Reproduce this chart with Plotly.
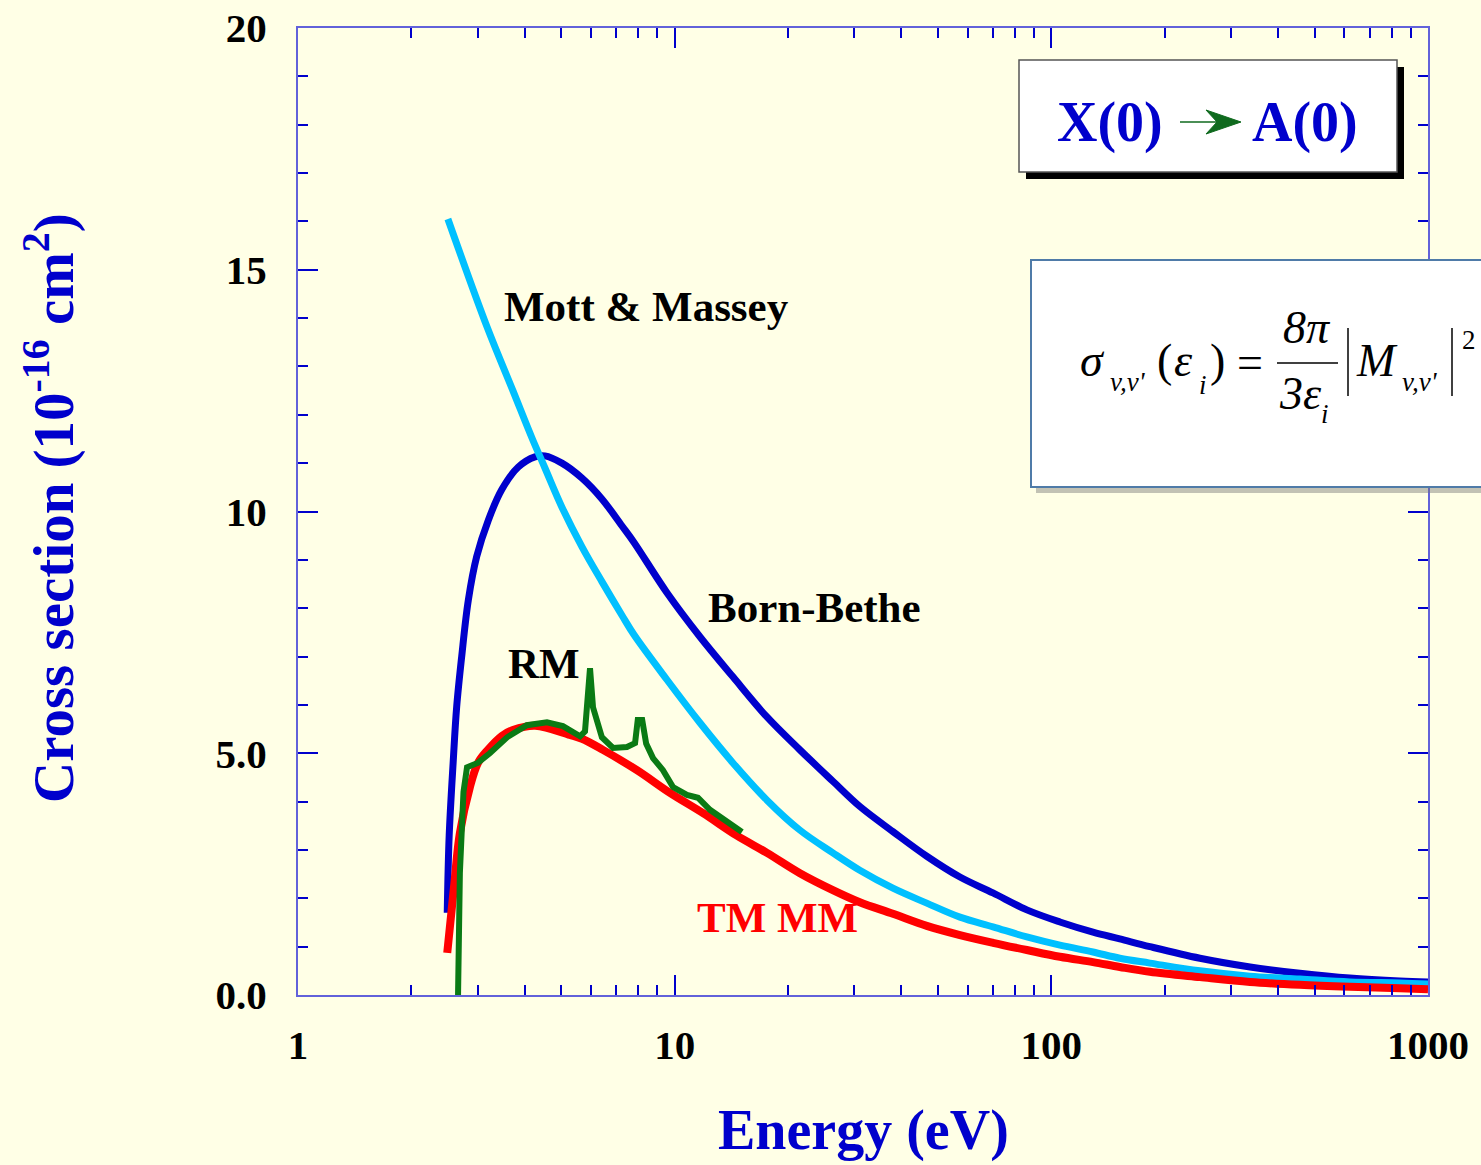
import plotly.graph_objects as go

# ---------------- data ----------------
bb_energy = [2.49, 2.52, 2.584, 2.638, 2.72, 2.833, 2.982, 3.201, 3.473, 3.845, 4.257, 4.525,
             5.02, 5.675, 6.41, 7.25, 7.80, 9.54, 11.67, 14.28, 17.58, 21.5, 26.3,
             31.0, 37.97, 46.7, 57.2, 70.0, 86.1, 105.4, 129, 152, 182.7, 248, 337,
             457, 620, 842, 1000]
bb_sigma = [1.70, 3.30, 4.86, 5.96, 7.00, 8.17, 9.07, 9.82, 10.45, 10.92, 11.13, 11.15,
            11.00, 10.69, 10.26, 9.70, 9.36, 8.32, 7.41, 6.58, 5.75, 5.07, 4.42,
            3.90, 3.38, 2.87, 2.44, 2.11, 1.76, 1.51, 1.30, 1.16, 1.00, 0.76, 0.58,
            0.45, 0.35, 0.29, 0.27]

mm_energy = [2.50, 3.175, 3.72, 4.18, 4.525, 5.02, 5.675, 6.41, 7.25, 7.80, 9.54, 11.67,
             14.28, 17.58, 21.5, 26.3, 31.0, 37.97, 46.7, 57.2, 70.0, 86.1, 105.4, 129,
             152, 182.7, 248, 337, 457, 620, 842, 1000]
mm_sigma = [16.05, 13.82, 12.50, 11.52, 10.90, 10.09, 9.27, 8.55, 7.85, 7.45, 6.52, 5.63,
            4.80, 4.03, 3.41, 2.94, 2.58, 2.21, 1.90, 1.61, 1.41, 1.20, 1.03, 0.89,
            0.76, 0.66, 0.50, 0.39, 0.33, 0.27, 0.25, 0.23]

tm_energy = [2.49, 2.60, 2.69, 2.86, 3.005, 3.175, 3.479, 3.72, 4.26, 5.27, 5.675, 6.45,
             7.94, 9.72, 11.9, 14.6, 17.58, 21.5, 26.3, 31.0, 37.97, 46.7, 57.2, 70.0,
             86.1, 105.4, 129, 152, 182.7, 248, 337, 457, 620, 842, 1000]
tm_sigma = [0.87, 2.30, 3.35, 4.30, 4.80, 5.05, 5.36, 5.48, 5.57, 5.38, 5.30, 5.07,
            4.65, 4.18, 3.76, 3.30, 2.94, 2.52, 2.17, 1.92, 1.68, 1.43, 1.24, 1.08,
            0.93, 0.79, 0.68, 0.58, 0.48, 0.37, 0.27, 0.21, 0.17, 0.14, 0.12]

rm_energy = [2.66, 2.69, 2.75, 2.81, 3.00, 3.23, 3.59, 4.05, 4.58, 5.05, 5.61, 5.78,
             5.96, 6.07, 6.41, 6.86, 7.47, 7.85, 7.98, 8.20, 8.40, 8.76, 9.31, 9.90,
             10.78, 11.53, 12.41, 13.77, 15.09]
rm_sigma = [0.00, 2.52, 4.20, 4.71, 4.80, 5.00, 5.33, 5.58, 5.64, 5.56, 5.35, 5.45,
            6.76, 5.95, 5.33, 5.11, 5.13, 5.21, 5.69, 5.69, 5.20, 4.90, 4.65, 4.30,
            4.14, 4.08, 3.83, 3.58, 3.37]

x_tick_vals = [1, 10, 100, 1000]
x_tick_text = ["1", "10", "100", "1000"]
x_minor_vals = [2, 3, 4, 5, 6, 7, 8, 9, 20, 30, 40, 50, 60, 70, 80, 90,
                200, 300, 400, 500, 600, 700, 800, 900]
y_tick_vals = [0, 5, 10, 15, 20]
y_tick_text = ["0.0", "5.0", "10", "15", "20"]

# ---------------- figure ----------------
W, H = 1481, 1165
L, R, T, B = 298, 53, 28, 170
PW, PH = W - L - R, H - T - B

def px(xp):
    return (xp - L) / PW

def py(yp):
    return (H - B - yp) / PH

BG = "#FFFFE6"
SERIF = "Liberation Serif, Times New Roman, serif"
BLUE = "#0000CC"

fig = go.Figure()
fig.add_trace(go.Scatter(x=bb_energy, y=bb_sigma, mode="lines", name="Born-Bethe",
                         line=dict(color="#0000CC", width=7, shape="spline", smoothing=1.0)))
fig.add_trace(go.Scatter(x=mm_energy, y=mm_sigma, mode="lines", name="Mott & Massey",
                         line=dict(color="#00C0FF", width=7, shape="spline", smoothing=1.0)))
fig.add_trace(go.Scatter(x=tm_energy, y=tm_sigma, mode="lines", name="TM MM",
                         line=dict(color="#FF0000", width=8, shape="spline", smoothing=1.0)))
fig.add_trace(go.Scatter(x=rm_energy, y=rm_sigma, mode="lines", name="RM",
                         line=dict(color="#0A7A14", width=6)))

axis_line = "rgba(70,70,215,0.85)"
fig.update_xaxes(type="log", range=[0, 3], tickmode="array", tickvals=x_tick_vals,
                 ticktext=x_tick_text, ticks="inside", ticklen=20, tickwidth=1.5,
                 tickcolor=BLUE, showline=True, linecolor=axis_line, linewidth=2,
                 mirror="ticks", showgrid=False, zeroline=False, automargin=False,
                 ticklabelstandoff=13,
                 tickfont=dict(family=SERIF, size=41, color="black", weight="bold"),
                 minor=dict(tickmode="array", tickvals=x_minor_vals, ticks="inside",
                            ticklen=10, tickwidth=1.5, tickcolor=BLUE, showgrid=False))
fig.update_yaxes(range=[0, 20], tickmode="array", tickvals=y_tick_vals,
                 ticktext=y_tick_text, ticks="inside", ticklen=20, tickwidth=1.5,
                 tickcolor=BLUE, showline=True, linecolor=axis_line, linewidth=2,
                 mirror="ticks", showgrid=False, zeroline=False, automargin=False,
                 ticklabelstandoff=21,
                 tickfont=dict(family=SERIF, size=41, color="black", weight="bold"),
                 minor=dict(dtick=1, ticks="inside", ticklen=10, tickwidth=1.5,
                            tickcolor=BLUE, showgrid=False))

shapes = []
# title box: shadow + white box
shapes.append(dict(type="rect", xref="paper", yref="paper", x0=px(1026), x1=px(1404),
                   y0=py(179), y1=py(67), fillcolor="black", line=dict(width=0), layer="above"))
shapes.append(dict(type="rect", xref="paper", yref="paper", x0=px(1019), x1=px(1397),
                   y0=py(172), y1=py(60), fillcolor="white",
                   line=dict(color="#555555", width=1.5), layer="above"))
# green arrow in title
shapes.append(dict(type="line", xref="paper", yref="paper", x0=px(1180), x1=px(1222),
                   y0=py(122), y1=py(122), line=dict(color="#0F6A1E", width=1.5), layer="above"))
path = (f"M {px(1241)},{py(122)} L {px(1206)},{py(110)} L {px(1217)},{py(122)} "
        f"L {px(1206)},{py(134)} Z")
shapes.append(dict(type="path", xref="paper", yref="paper", path=path,
                   fillcolor="#0F6A1E", line=dict(color="#0F6A1E", width=1), layer="above"))
# formula box: soft shadow + box
shapes.append(dict(type="rect", xref="paper", yref="paper", x0=px(1036), x1=px(1520),
                   y0=py(493), y1=py(266), fillcolor="rgba(120,120,120,0.45)",
                   line=dict(width=0), layer="above"))
shapes.append(dict(type="rect", xref="paper", yref="paper", x0=px(1031), x1=px(1520),
                   y0=py(487), y1=py(260), fillcolor="white",
                   line=dict(color="#4F7BA8", width=2), layer="above"))
# fraction line and absolute-value bars
shapes.append(dict(type="line", xref="paper", yref="paper", x0=px(1277), x1=px(1338),
                   y0=py(363), y1=py(363), line=dict(color="black", width=1.5), layer="above"))
for bx in (1348, 1452):
    shapes.append(dict(type="line", xref="paper", yref="paper", x0=px(bx), x1=px(bx),
                       y0=py(396), y1=py(328), line=dict(color="black", width=1.5), layer="above"))

ann = []
def label(text, xc, yc, color="black", size=43, bold=True, xanchor="center", italic=False,
          family=SERIF):
    ann.append(dict(text=text, xref="paper", yref="paper", x=px(xc), y=py(yc),
                    xanchor=xanchor, yanchor="middle", showarrow=False,
                    font=dict(family=family, size=size, color=color,
                              weight="bold" if bold else "normal",
                              style="italic" if italic else "normal")))

label("Mott &amp; Massey", 646, 306)
label("Born-Bethe", 814, 607)
label("RM", 544, 663)
label("TM MM", 777, 917, color="#FF0000")
label("X(0)", 1110, 122, color=BLUE, size=56)
label("A(0)", 1305, 122, color=BLUE, size=56)
# formula pieces
FS, SS = 46, 27
label("σ", 1078, 360, size=FS, bold=False, xanchor="left", italic=True)
label("v,v'", 1108, 382, size=SS, bold=False, xanchor="left", italic=True)
label("(", 1155, 360, size=FS, bold=False, xanchor="left")
label("ε", 1172, 360, size=FS, bold=False, xanchor="left", italic=True)
label("i", 1197, 385, size=SS, bold=False, xanchor="left", italic=True)
label(")", 1208, 360, size=FS, bold=False, xanchor="left")
label("=", 1250, 362, size=FS, bold=False)
label("8π", 1307, 328, size=FS, bold=False, italic=True)
label("3ε", 1300, 394, size=FS, bold=False, italic=True)
label("i", 1319, 414, size=SS, bold=False, xanchor="left", italic=True)
label("M", 1354, 360, size=FS, bold=False, xanchor="left", italic=True)
label("v,v'", 1400, 382, size=SS, bold=False, xanchor="left", italic=True)
label("2", 1460, 340, size=SS, bold=False, xanchor="left")
# axis titles
label("Energy (eV)", 863, 1130, color=BLUE, size=56)
ann.append(dict(text="Cross section (10<sup>-16</sup> cm<sup>2</sup>)", xref="paper",
                yref="paper", x=px(49), y=py(508), xanchor="center", yanchor="middle",
                textangle=-90, showarrow=False,
                font=dict(family=SERIF, size=57, color=BLUE, weight="bold")))

fig.update_layout(width=W, height=H, autosize=False,
                  margin=dict(l=L, r=R, t=T, b=B, pad=0, autoexpand=False),
                  paper_bgcolor=BG, plot_bgcolor=BG, showlegend=False,
                  shapes=shapes, annotations=ann)

fig.write_html("out.html", config={"displayModeBar": False},
               post_script="document.body.style.margin='0px';"
                           "document.body.style.overflow='hidden';"
                           "document.body.style.background='" + BG + "';")
